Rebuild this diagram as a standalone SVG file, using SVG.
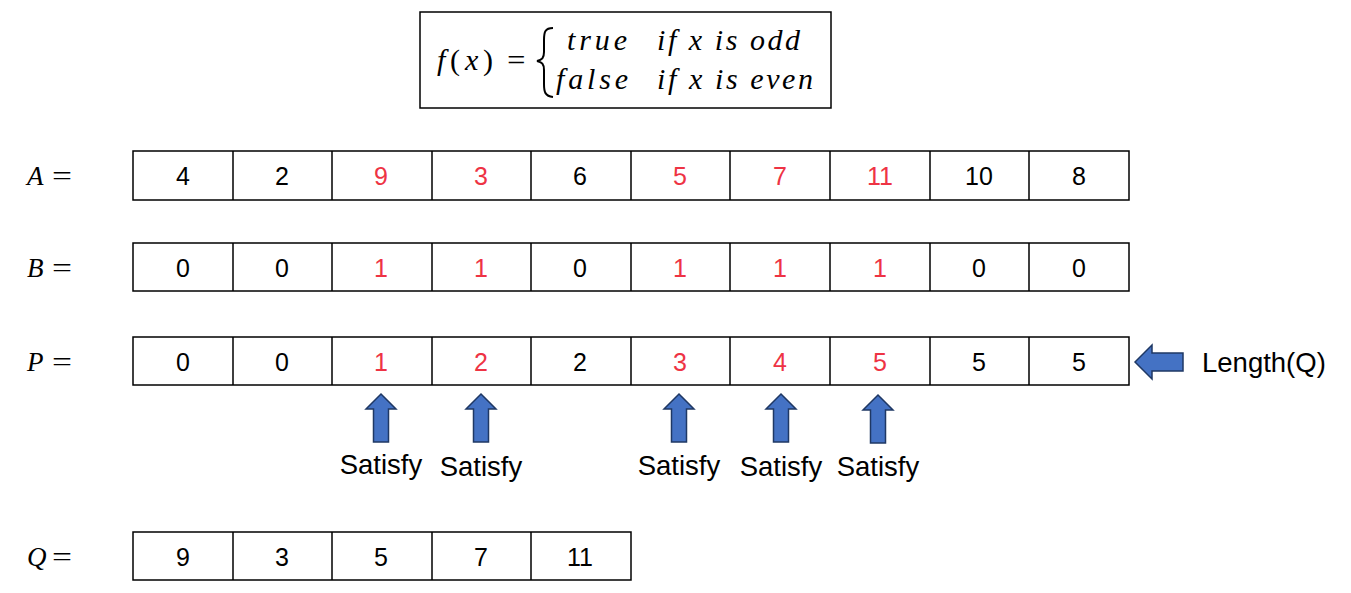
<svg xmlns="http://www.w3.org/2000/svg" width="1351" height="593" viewBox="0 0 1351 593">
<style>
.cell{fill:#fff;stroke:#000;stroke-width:1.5}
.num{font-family:"Liberation Sans",Arial,sans-serif;font-size:25px;text-anchor:middle;fill:#000}
.red{fill:#EE3344}
.lbl{font-family:"Liberation Serif","DejaVu Serif",serif;font-size:27px;fill:#000}
.math{font-family:"Liberation Serif","DejaVu Serif",serif;font-size:30px;font-style:italic;fill:#000}
.txt{font-family:"Liberation Sans",Arial,sans-serif;font-size:27.5px;fill:#000}
.arrow{fill:#4472C4;stroke:#1F3864;stroke-width:1.5}
</style>
<defs>
<path id="up" class="arrow" d="M0,-48 L15,-33 L7.5,-33 L7.5,0 L-7.5,0 L-7.5,-33 L-15,-33 Z"/>
</defs>
<g id="formula">
<rect x="420" y="12" width="411" height="96" fill="#fff" stroke="#000" stroke-width="1.5"/>
<text x="437" y="70" class="math" textLength="56" lengthAdjust="spacing">f<tspan font-style="normal">(</tspan>x<tspan font-style="normal">)</tspan></text>
<text x="505" y="70" class="math" font-style="normal" textLength="22" lengthAdjust="spacingAndGlyphs">=</text>
<path d="M553,28 C545,28 544,32 544,40 L544,52 C544,58 542,60 537,61 C542,62 544,64 544,70 L544,84 C544,92 545,96 553,97" fill="none" stroke="#000" stroke-width="2"/>
<text x="567" y="50" class="math" textLength="60" lengthAdjust="spacing">true</text>
<text x="657" y="50" class="math" textLength="143" lengthAdjust="spacing">if x is odd</text>
<text x="556" y="89" class="math" textLength="72" lengthAdjust="spacing">false</text>
<text x="657" y="89" class="math" textLength="156" lengthAdjust="spacing">if x is even</text>
</g>
<g id="rowA">
<text x="27" y="185" class="lbl" font-style="italic">A</text><text x="52" y="185" class="lbl" textLength="20" lengthAdjust="spacingAndGlyphs">=</text>
<rect class="cell" x="133" y="151" width="996" height="49"/>
<path d="M233,151V200M332,151V200M432,151V200M531,151V200M631,151V200M730,151V200M830,151V200M930,151V200M1029,151V200" stroke="#000" stroke-width="1.5"/>
<text class="num" y="185"><tspan x="183">4</tspan><tspan x="282">2</tspan><tspan x="381" class="red">9</tspan><tspan x="481" class="red">3</tspan><tspan x="580">6</tspan><tspan x="680" class="red">5</tspan><tspan x="780" class="red">7</tspan><tspan x="880" class="red">11</tspan><tspan x="979">10</tspan><tspan x="1079">8</tspan></text>
</g>
<g id="rowB">
<text x="27" y="277" class="lbl" font-style="italic">B</text><text x="52" y="277" class="lbl" textLength="20" lengthAdjust="spacingAndGlyphs">=</text>
<rect class="cell" x="133" y="243" width="996" height="48"/>
<path d="M233,243V291M332,243V291M432,243V291M531,243V291M631,243V291M730,243V291M830,243V291M930,243V291M1029,243V291" stroke="#000" stroke-width="1.5"/>
<text class="num" y="277"><tspan x="183">0</tspan><tspan x="282">0</tspan><tspan x="381" class="red">1</tspan><tspan x="481" class="red">1</tspan><tspan x="580">0</tspan><tspan x="680" class="red">1</tspan><tspan x="780" class="red">1</tspan><tspan x="880" class="red">1</tspan><tspan x="979">0</tspan><tspan x="1079">0</tspan></text>
</g>
<g id="rowP">
<text x="27" y="371" class="lbl" font-style="italic">P</text><text x="52" y="371" class="lbl" textLength="20" lengthAdjust="spacingAndGlyphs">=</text>
<rect class="cell" x="133" y="337" width="996" height="48"/>
<path d="M233,337V385M332,337V385M432,337V385M531,337V385M631,337V385M730,337V385M830,337V385M930,337V385M1029,337V385" stroke="#000" stroke-width="1.5"/>
<text class="num" y="371"><tspan x="183">0</tspan><tspan x="282">0</tspan><tspan x="381" class="red">1</tspan><tspan x="481" class="red">2</tspan><tspan x="580">2</tspan><tspan x="680" class="red">3</tspan><tspan x="780" class="red">4</tspan><tspan x="880" class="red">5</tspan><tspan x="979">5</tspan><tspan x="1079">5</tspan></text>
</g>
<g id="lengthQ">
<path class="arrow" d="M1135,362 L1152,345 L1152,353 L1183,353 L1183,371 L1152,371 L1152,379 Z"/>
<text x="1202" y="372" class="txt">Length(Q)</text>
</g>
<g id="satisfy">
<use href="#up" x="381" y="442"/>
<use href="#up" x="481" y="442"/>
<use href="#up" x="679" y="442"/>
<use href="#up" x="781" y="442"/>
<use href="#up" x="878" y="443"/>
<text class="txt" text-anchor="middle" x="381" y="474">Satisfy</text>
<text class="txt" text-anchor="middle" x="481" y="476">Satisfy</text>
<text class="txt" text-anchor="middle" x="679" y="475">Satisfy</text>
<text class="txt" text-anchor="middle" x="781" y="476">Satisfy</text>
<text class="txt" text-anchor="middle" x="878" y="476">Satisfy</text>
</g>
<g id="rowQ">
<text x="27" y="566" class="lbl" font-style="italic">Q</text><text x="52" y="566" class="lbl" textLength="20" lengthAdjust="spacingAndGlyphs">=</text>
<rect class="cell" x="133" y="532" width="498" height="48"/>
<path d="M233,532V580M332,532V580M432,532V580M531,532V580" stroke="#000" stroke-width="1.5"/>
<text class="num" y="566"><tspan x="183">9</tspan><tspan x="282">3</tspan><tspan x="381">5</tspan><tspan x="481">7</tspan><tspan x="580">11</tspan></text>
</g>
</svg>
